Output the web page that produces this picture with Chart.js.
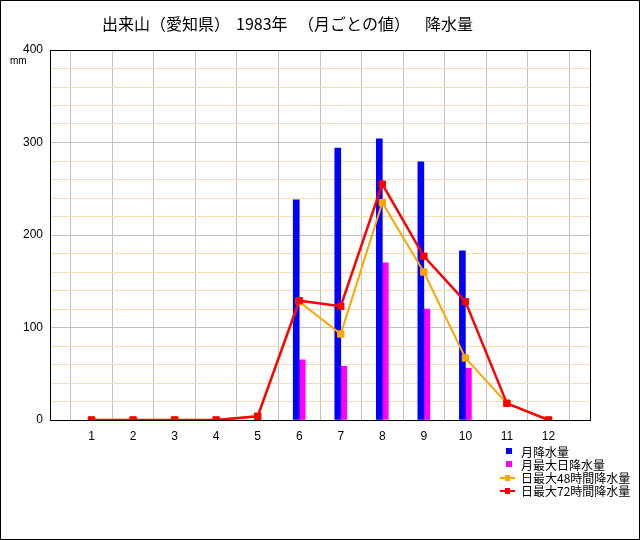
<!DOCTYPE html>
<html>
<head>
<meta charset="utf-8">
<script src="https://cdn.jsdelivr.net/npm/chart.js@4/dist/chart.umd.min.js"></script>
<style>
  body { margin: 0; background: #fff; }
  #wrap { position: relative; width: 640px; height: 540px; }
  #legend { position: absolute; left: 498px; top: 445px; font: 12px "Noto Sans CJK JP", sans-serif; color: #000; }
  #legend div { height: 13px; line-height: 13px; white-space: nowrap; position: relative; padding-left: 23px; }
  #legend .box { position: absolute; left: 8px; top: 3px; width: 6px; height: 6px; }
  #legend .ln { position: absolute; left: 2px; top: 6px; width: 15px; height: 2px; }
  #legend .ln span { position: absolute; left: 5px; top: -2px; width: 5px; height: 6px; }
</style>
</head>
<body>
<div id="wrap">
  <canvas id="rainChart" width="640" height="540"></canvas>
  <div id="legend"></div>
</div>
<script>
// months (blank slots at both ends so 1..12 sit one step inside the frame)
const months = ['', '1', '2', '3', '4', '5', '6', '7', '8', '9', '10', '11', '12', ''];
const monthly = [null, null, null, null, null, null, 238, 294, 304, 279, 183, null, null, null];
const maxDaily = [null, null, null, null, null, null, 65, 58, 170, 120, 56, null, null, null];
const max48h = [null, 0, 0, 0, 0, 4, 128, 93, 235, 160, 67, 18, 0, null];
const max72h = [null, 0, 0, 0, 0, 4, 129, 123, 255, 177, 128, 18, 0, null];
const yTicks = [0, 100, 200, 300, 400];

// title pieces, spaced out like the original
const titleParts = [['出来山（愛知県）', 102], ['1983年', 236], ['（月ごとの値）', 298], ['降水量', 425]];

const framePlugin = {
  id: 'frame',
  afterDraw(chart) {
    const ctx = chart.ctx;
    const a = chart.chartArea;
    ctx.save();
    ctx.strokeStyle = '#000';
    ctx.lineWidth = 1;
    ctx.strokeRect(Math.round(a.left) + 0.5, Math.round(a.top) + 0.5, Math.round(a.right - a.left), Math.round(a.bottom - a.top));
    ctx.strokeRect(0.5, 0.5, 639, 539);
    ctx.fillStyle = '#000';
    ctx.textBaseline = 'middle';
    ctx.font = '16px "Noto Sans CJK JP"';
    titleParts.forEach(function(p) { ctx.fillText(p[0], p[1], 24); });
    ctx.font = '10px "Liberation Sans"';
    ctx.fillText('mm', 10, 61);
    ctx.restore();
  }
};

const data = {
  labels: months,
  datasets: [
    { type: 'bar', label: '月降水量', data: monthly, backgroundColor: '#0000ff', order: 2 },
    { type: 'bar', label: '月最大日降水量', data: maxDaily, backgroundColor: '#ff00ff', order: 2 },
    { type: 'line', label: '日最大48時間降水量', data: max48h, borderColor: '#ffa500', backgroundColor: '#ffa500',
      borderWidth: 2, pointStyle: 'rect', pointRadius: 4.5, pointBorderWidth: 1, order: 1 },
    { type: 'line', label: '日最大72時間降水量', data: max72h, borderColor: '#ff0000', backgroundColor: '#ff0000',
      borderWidth: 2.5, pointStyle: 'rect', pointRadius: 4.5, pointBorderWidth: 1, order: 0 }
  ]
};

const config = {
  type: 'bar',
  data: data,
  plugins: [framePlugin],
  options: {
    responsive: false,
    animation: false,
    layout: { padding: { top: 50, right: 50, left: 0, bottom: 0 } },
    datasets: { bar: { barThickness: 6, grouped: true } },
    plugins: { legend: { display: false }, title: { display: false }, tooltip: { enabled: false } },
    scales: {
      x: {
        offset: false,
        grid: { color: '#c0c0c0', drawTicks: false },
        border: { color: '#000' },
        ticks: { autoSkip: false, maxRotation: 0, padding: 9, color: '#000', font: { family: 'Liberation Sans', size: 12 } },
        afterFit(scale) { scale.height = 120; }
      },
      y: {
        min: 0, max: 400,
        grid: {
          drawTicks: false,
          color: (c) => (c.tick && c.tick.value % 100 === 0) ? '#c0c0c0' : '#f5deb3'
        },
        border: { color: '#000' },
        ticks: {
          stepSize: 20, autoSkip: false, padding: 7, color: '#000',
          font: { family: 'Liberation Sans', size: 12 },
          callback: (v) => yTicks.includes(v) ? String(v) : ''
        },
        afterFit(scale) { scale.width = 50; }
      }
    }
  }
};

const rainChart = new Chart(document.getElementById('rainChart'), config);

// legend built from the datasets
const legendEl = document.getElementById('legend');
rainChart.data.datasets.forEach(function(ds) {
  const row = document.createElement('div');
  let mark;
  if (ds.type === 'bar') {
    mark = '<i class="box" style="background:' + ds.backgroundColor + '"></i>';
  } else {
    mark = '<i class="ln" style="background:' + ds.borderColor + '"><span style="background:' + ds.borderColor + '"></span></i>';
  }
  row.innerHTML = mark + ds.label;
  legendEl.appendChild(row);
});
</script>
</body>
</html>
